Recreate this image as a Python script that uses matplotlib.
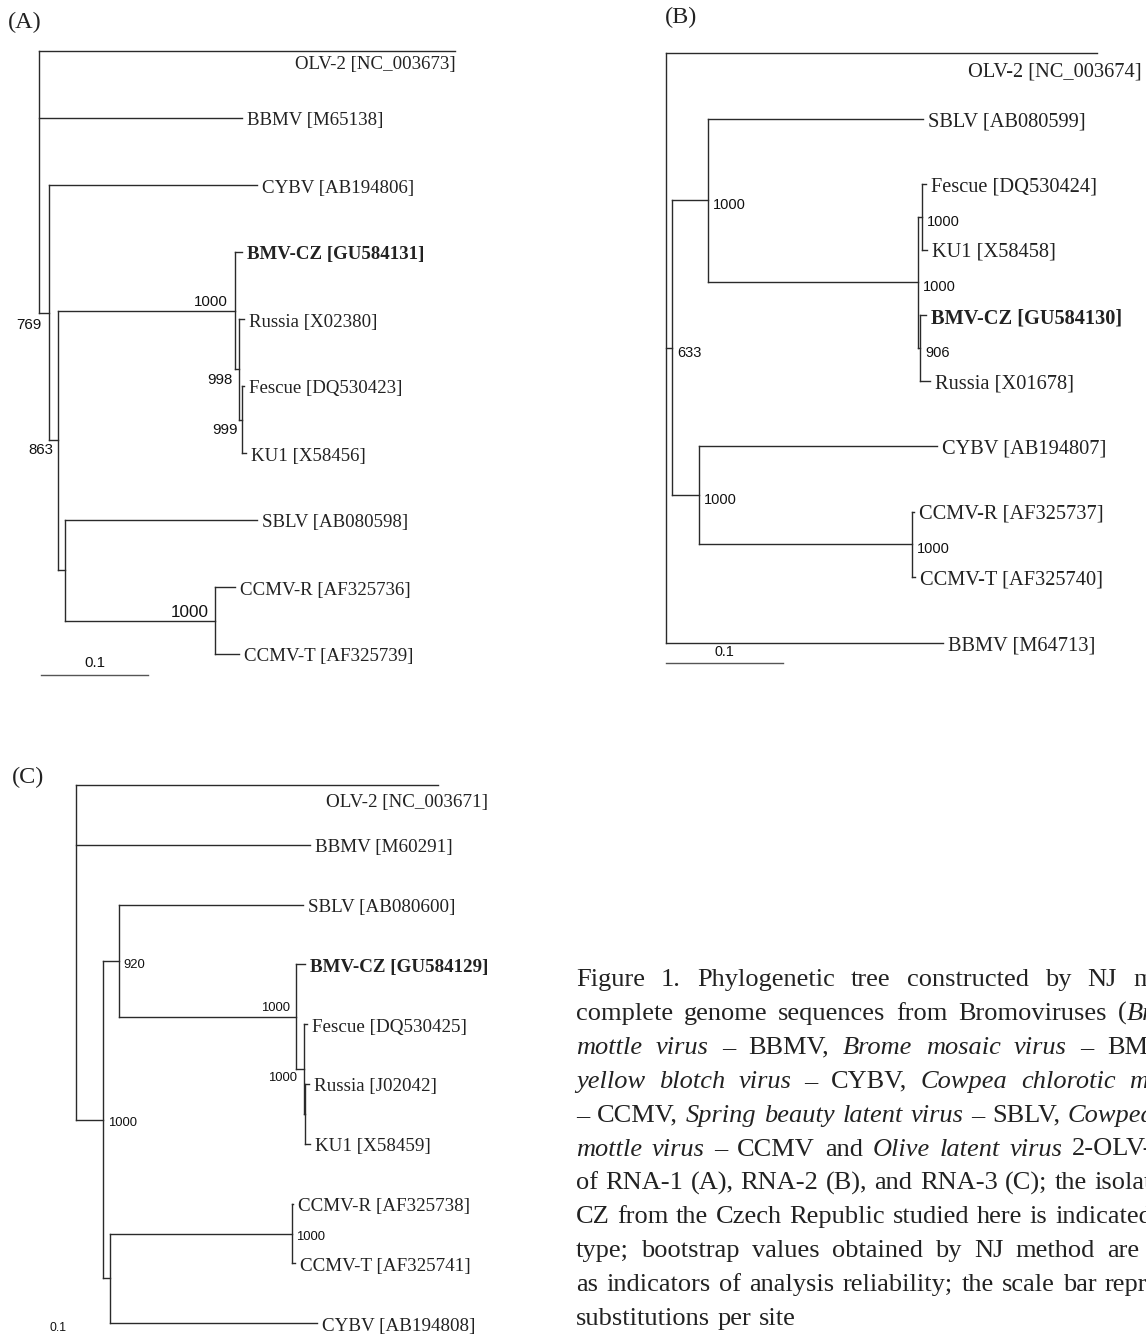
import matplotlib
matplotlib.use("Agg")
import matplotlib.pyplot as plt

W, H = 1146, 1335

# ---------------- data ----------------
# tree nodes: leaf = (label, branch_length); internal = ([children], branch_length, bootstrap)
TREE_A = ([
    ("OLV-2 [NC_003673]", 0.389),
    ("BBMV [M65138]", 0.190),
    ([
        ("CYBV [AB194806]", 0.195),
        ([
            ([
                ("BMV-CZ [GU584131]", 0.0065),
                ([
                    ("Russia [X02380]", 0.005),
                    ([("Fescue [DQ530423]", 0.002), ("KU1 [X58456]", 0.003)], 0.003, 999),
                ], 0.004, 998),
            ], 0.165, 1000),
            ([
                ("SBLV [AB080598]", 0.179),
                ([("CCMV-R [AF325736]", 0.019), ("CCMV-T [AF325739]", 0.022)], 0.140, 1000),
            ], 0.0065, None),
        ], 0.009, 863),
    ], 0.009, 769),
], 0.0, None)

TREE_B = ([
    ("OLV-2 [NC_003674]", 0.368),
    ([
        ([
            ("SBLV [AB080599]", 0.184),
            ([
                ([("Fescue [DQ530424]", 0.003), ("KU1 [X58458]", 0.004)], 0.004, 1000),
                ([("BMV-CZ [GU584130]", 0.005), ("Russia [X01678]", 0.009)], 0.002, 906),
            ], 0.179, 1000),
        ], 0.031, 1000),
        ([
            ("CYBV [AB194807]", 0.204),
            ([("CCMV-R [AF325737]", 0.002), ("CCMV-T [AF325740]", 0.003)], 0.182, 1000),
        ], 0.023, 1000),
    ], 0.005, 633),
    ("BBMV [M64713]", 0.237),
], 0.0, None)

TREE_C = ([
    ("OLV-2 [NC_003671]", 0.362),
    ("BBMV [M60291]", 0.234),
    ([
        ([
            ("SBLV [AB080600]", 0.184),
            ([
                ("BMV-CZ [GU584129]", 0.009),
                ([("Fescue [DQ530425]", 0.003),
                  ([("Russia [J02042]", 0.004), ("KU1 [X58459]", 0.005)], 0.001, None)],
                 0.008, 1000),
            ], 0.177, 1000),
        ], 0.016, 920),
        ([
            ([("CCMV-R [AF325738]", 0.001), ("CCMV-T [AF325741]", 0.003)], 0.182, 1000),
            ("CYBV [AB194808]", 0.207),
        ], 0.007, None),
    ], 0.027, 1000),
], 0.0, None)

HIGHLIGHT = "BMV-CZ"
SCALE_BAR = 0.1
PANEL_LETTERS = ["(A)", "(B)", "(C)"]

CAPTION_LINES = [
    "Figure 1. Phylogenetic tree constructed by NJ method",
    "complete genome sequences from Bromoviruses (*Broad*",
    "*mottle virus* – BBMV, *Brome mosaic virus* – BMV,",
    "*yellow blotch virus* – CYBV, *Cowpea chlorotic mottle*",
    "– CCMV, *Spring beauty latent virus* – SBLV, *Cowpea*",
    "*mottle virus* – CCMV and *Olive latent virus* 2-OLV-2)",
    "of RNA-1 (A), RNA-2 (B), and RNA-3 (C); the isolate",
    "CZ from the Czech Republic studied here is indicated",
    "type; bootstrap values obtained by NJ method are",
    "as indicators of analysis reliability; the scale bar represents",
    "substitutions per site",
]

# ---------------- style ----------------
LINE_C = "#2a2a2a"
SERIF = "Liberation Serif"
SANS = "Liberation Sans"

fig = plt.figure(figsize=(W / 100, H / 100), dpi=100)
fig.patch.set_facecolor("white")


def px_axes(x0, y0, x1, y1, root_px, unit_px, leaf0_px, step_px):
    ax = fig.add_axes([x0 / W, 1 - y1 / H, (x1 - x0) / W, (y1 - y0) / H])
    ax.set_xlim((x0 - root_px) / unit_px, (x1 - root_px) / unit_px)
    ax.set_ylim((y1 - leaf0_px) / step_px, (y0 - leaf0_px) / step_px)
    ax.axis("off")
    return ax


def draw_tree(ax, tree, label_fs, first_label, boot_place, boot_fs):
    counter = [0]
    segs = []
    leaves = []
    supports = []

    def rec(node, x_parent):
        if isinstance(node[0], str):
            name, bl = node
            y = counter[0]
            counter[0] += 1
            segs.append(((x_parent, x_parent + bl), (y, y)))
            leaves.append((name, x_parent + bl, y))
            return y
        children, bl, sup = node
        xn = x_parent + bl
        idx = len(supports)
        if sup is not None:
            supports.append(None)
        ys = [rec(c, xn) for c in children]
        y = (ys[0] + ys[-1]) / 2
        segs.append(((xn, xn), (min(ys), max(ys))))
        if bl > 0:
            segs.append(((x_parent, xn), (y, y)))
        if sup is not None:
            supports[idx] = (sup, xn, y)
        return y

    rec(tree, 0.0)
    for xs, ys in segs:
        ax.plot(xs, ys, color=LINE_C, lw=1.0, solid_capstyle="projecting")

    for i, (name, xt, y) in enumerate(leaves):
        weight = "bold" if name.startswith(HIGHLIGHT) else "normal"
        if i == 0:
            dx, dy = first_label
            ax.annotate(name, (xt, y), xytext=(dx, -dy), textcoords="offset pixels",
                        ha="right", va="center", fontsize=label_fs, family=SERIF,
                        color="#222222", weight=weight, annotation_clip=False)
        else:
            ax.annotate(name, (xt, y), xytext=(5, -3), textcoords="offset pixels",
                        ha="left", va="center", fontsize=label_fs, family=SERIF,
                        color="#222222", weight=weight, annotation_clip=False)

    for (sup, xn, y), (dx, dy, ha), fs in zip(supports, boot_place, boot_fs):
        ax.annotate(str(sup), (xn, y), xytext=(dx, -dy), textcoords="offset pixels",
                    ha=ha, va="center", fontsize=fs, family=SANS, color="#111111",
                    annotation_clip=False)


def scale_bar(ax, x0, y_bar, y_txt, fs):
    ax.plot([x0, x0 + SCALE_BAR], [y_bar, y_bar], color="#555555", lw=1.0, clip_on=False)
    ax.text(x0 + SCALE_BAR / 2, y_txt, f"{SCALE_BAR:g}", ha="center", va="center",
            fontsize=fs, family=SANS, color="#111111")


# ---- panel A ----
axA = px_axes(0, 30, 600, 720, root_px=39, unit_px=1070, leaf0_px=51, step_px=67)
draw_tree(axA, TREE_A, 13.6, (0, 14),
          [(-7, 12, "right"), (-5, 10, "right"), (-7, -9, "right"),
           (-7, 11, "right"), (-5, 11, "right"), (-6, -8, "right")],
          [10.8] * 5 + [12.3])
scale_bar(axA, 0.002, 9.31, 9.13, 10.9)

# ---- panel B ----
axB = px_axes(620, 30, 1146, 720, root_px=666, unit_px=1170, leaf0_px=53, step_px=65.5)
draw_tree(axB, TREE_B, 14.7, (45, 19), [(5, 5, "left")] * 7, [10.5] * 7)
scale_bar(axB, 0.0, 9.31, 9.15, 10.4)

# ---- panel C ----
axC = px_axes(0, 760, 600, 1335, root_px=76, unit_px=1000, leaf0_px=785, step_px=59.8)
draw_tree(axC, TREE_C, 13.7, (50, 17),
          [(5, 3, "left"), (4, 4, "left"), (-6, -9, "right"), (-7, 9, "right"), (4, 4, "left")],
          [9.4] * 5)
scale_bar(axC, -0.068, 9.31, 9.08, 8.8)

# panel letters
for lab, (px, py) in zip(PANEL_LETTERS, [(8, 22), (665, 17), (12, 777)]):
    fig.text(px / W, 1 - py / H, lab, ha="left", va="center", fontsize=17.5,
             family=SERIF, color="#222222")

# ---------------- caption (justified) ----------------
CAP_FS = 19.0
CAP_X0 = 576
CAP_BASE0 = 986
CAP_STEP = 33.9
CAP_LAST_X = [1133, 1118, 1107, 1129, 1068, 1072, 1094, 1055, 1107, 1105, None]

renderer = fig.canvas.get_renderer()


def measure(s, italic):
    t = fig.text(0, 0, s, fontsize=CAP_FS, family=SERIF,
                 fontstyle="italic" if italic else "normal")
    w = t.get_window_extent(renderer).width
    t.remove()
    return w


def parse_words(line):
    chars, ital = [], False
    for ch in line:
        if ch == "*":
            ital = not ital
            continue
        chars.append((ch, ital))
    words, cur = [], []
    for ch, it in chars:
        if ch == " ":
            if cur:
                words.append(cur)
            cur = []
        else:
            cur.append((ch, it))
    if cur:
        words.append(cur)
    out = []
    for w in words:
        segs = []
        for ch, it in w:
            if segs and segs[-1][1] == it:
                segs[-1][0] += ch
            else:
                segs.append([ch, it])
        out.append(segs)
    return out


space_w = measure("x x", False) - measure("xx", False)

for i, (line, xlast) in enumerate(zip(CAPTION_LINES, CAP_LAST_X)):
    words = parse_words(line)
    widths = [[measure(s, it) for s, it in w] for w in words]
    wsum = [sum(ws) for ws in widths]
    if xlast is None or len(words) < 2:
        gap = space_w * 1.1
    else:
        gap = (xlast - CAP_X0 - sum(wsum[:-1])) / (len(words) - 1)
        gap = max(gap, 0.35 * space_w)
    x = CAP_X0
    base = CAP_BASE0 + CAP_STEP * i
    for w, ws in zip(words, widths):
        for (s, it), sw in zip(w, ws):
            fig.text(x / W, 1 - base / H, s, ha="left", va="baseline", fontsize=CAP_FS,
                     family=SERIF, fontstyle="italic" if it else "normal", color="#222222")
            x += sw
        x += gap

fig.savefig("out.png", dpi=100, facecolor="white")
